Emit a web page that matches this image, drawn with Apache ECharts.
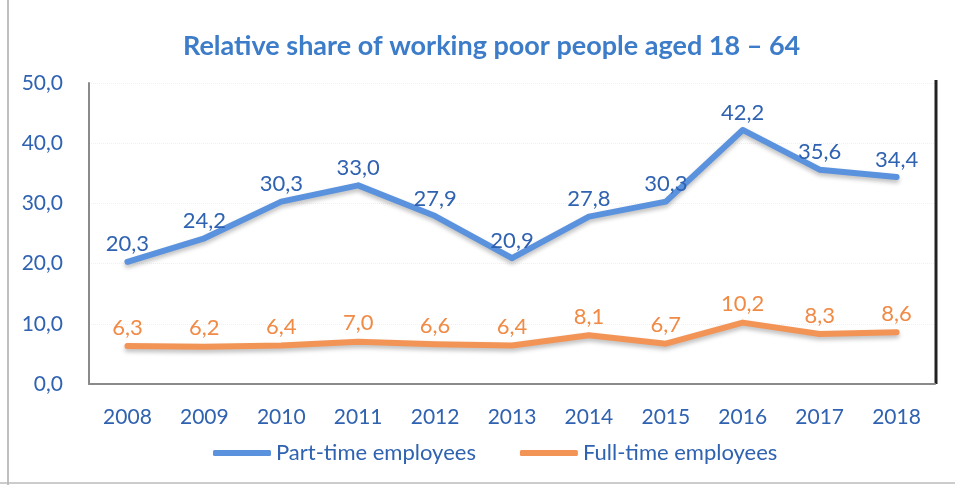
<!DOCTYPE html>
<html><head><meta charset="utf-8">
<script src="https://cdn.jsdelivr.net/npm/echarts@6/dist/echarts.min.js"></script>
<style>html,body{margin:0;padding:0;background:#fff}#c{width:955px;height:485px}</style>
</head><body><div id="c"></div>
<script>
const categories = ['2008','2009','2010','2011','2012','2013','2014','2015','2016','2017','2018'];
const partTime = [20.3,24.2,30.3,33.0,27.9,20.9,27.8,30.3,42.2,35.6,34.4];
const fullTime = [6.3,6.2,6.4,7.0,6.6,6.4,8.1,6.7,10.2,8.3,8.6];
const seriesNames = ['Part-time employees','Full-time employees'];
const titleText = 'Relative share of working poor people aged 18 – 64';

const FONT = 'Lato, "Open Sans", sans-serif';
const fmt = v => v.toFixed(1).replace('.', ',');
const chart = echarts.init(document.getElementById('c'));
chart.setOption({
  backgroundColor: '#fff',
  animation: false,
  title: { text: titleText, left: 178, top: 28,
    textStyle: { color: '#3d7cc9', fontSize: 27, fontWeight: 'bold', fontFamily: FONT } },
  graphic: [
    { type: 'line', shape: { x1: 8, y1: 0, x2: 8, y2: 485 }, style: { stroke: '#aaa', lineWidth: 1.5 } },
    { type: 'line', shape: { x1: 0, y1: 483, x2: 955, y2: 483 }, style: { stroke: '#bbb', lineWidth: 1.5 } },
    { type: 'line', shape: { x1: 936, y1: 80, x2: 936, y2: 384 }, style: { stroke: '#222', lineWidth: 3 } }
  ],
  legend: { bottom: 16, left: 208, itemWidth: 58, itemHeight: 6, itemGap: 44,
    icon: 'roundRect',
    textStyle: { color: '#2f62b0', fontSize: 22, fontFamily: FONT },
    data: seriesNames },
  grid: { left: 89, right: 20, top: 83, bottom: 101, containLabel: false },
  xAxis: { type: 'category', data: categories, boundaryGap: true,
    axisLine: { lineStyle: { color: '#8a8a8a', width: 2 } },
    axisTick: { show: false },
    axisLabel: { color: '#2f62b0', fontSize: 21, fontFamily: FONT, margin: 23 } },
  yAxis: { type: 'value', min: 0, max: 50, interval: 10,
    axisLine: { show: true, lineStyle: { color: '#8a8a8a', width: 2 } },
    axisTick: { show: false },
    splitLine: { lineStyle: { color: '#f0f0f0', type: 'dotted' } },
    axisLabel: { color: '#2f62b0', fontSize: 21, fontFamily: FONT, margin: 26, formatter: v => fmt(v) } },
  series: [
    { name: seriesNames[0], type: 'line', data: partTime, symbol: 'circle', symbolSize: 5, showSymbol: true,
      itemStyle: { color: '#5a92de', borderWidth: 0 },
      lineStyle: { width: 6, color: '#5a92de', cap: 'round', join: 'round',
        shadowColor: 'rgba(0,0,0,0.25)', shadowBlur: 4, shadowOffsetY: 3 },
      label: { show: true, position: 'top', distance: 4, color: '#2f62b0', fontSize: 22, fontFamily: FONT, formatter: p => fmt(p.value) } },
    { name: seriesNames[1], type: 'line', data: fullTime, symbol: 'circle', symbolSize: 5, showSymbol: true,
      itemStyle: { color: '#f39457', borderWidth: 0 },
      lineStyle: { width: 6, color: '#f39457', cap: 'round', join: 'round',
        shadowColor: 'rgba(0,0,0,0.25)', shadowBlur: 4, shadowOffsetY: 3 },
      label: { show: true, position: 'top', distance: 5, color: '#f08a45', fontSize: 22, fontFamily: FONT, formatter: p => fmt(p.value) } }
  ]
});
</script></body></html>
